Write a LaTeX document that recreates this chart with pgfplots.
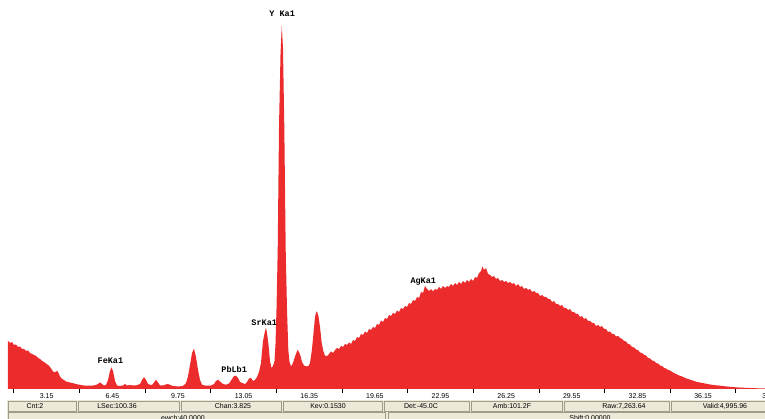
\documentclass[border=0pt]{standalone}
\usepackage{fontspec}
\setmainfont{Liberation Sans}
\newfontfamily\peakfont{Liberation Mono}
\usepackage{pgfplots}
\usepackage{pgfplotstable}
\pgfplotsset{compat=1.18}
\definecolor{specred}{RGB}{236,44,44}
\definecolor{barbg}{RGB}{236,233,216}
\definecolor{barln}{RGB}{160,156,140}

\pgfplotstableread{
kev cnt
1.204 48
1.305 46
1.405 47
1.506 44
1.606 44.5
1.707 42
1.808 42.5
1.908 40
2.009 40
2.109 38
2.210 38.5
2.310 36
2.411 35
2.512 34
2.612 33
2.713 31
2.813 30
2.914 28
3.014 27
3.115 25.5
3.215 24
3.316 22
3.417 19
3.517 16.5
3.618 17.5
3.668 18
3.718 17
3.819 12.5
3.919 10
4.020 9
4.120 7.5
4.221 7
4.322 6.5
4.422 6
4.573 5.3
4.724 4.5
4.875 4
5.026 3.5
5.176 3.3
5.327 3.3
5.478 3.5
5.629 4
5.729 5
5.830 6.6
5.931 5
6.031 3.5
6.132 4
6.232 9
6.333 18
6.408 21.6
6.484 18
6.584 8
6.685 3.5
6.836 3
6.986 3.5
7.087 5
7.188 3.5
7.338 4
7.489 3.5
7.640 3.5
7.841 5
7.942 9
8.042 12
8.143 9
8.243 5
8.344 4.3
8.445 4
8.545 6.5
8.646 9.3
8.746 6.5
8.847 3.5
8.998 3.5
9.148 4.5
9.249 5
9.350 4
9.500 3
9.651 2.7
9.852 2.7
10.003 3
10.154 6
10.255 12.7
10.355 24
10.456 36
10.556 40.3
10.657 32
10.757 19.3
10.858 9
10.959 4.3
11.109 3.5
11.260 3.3
11.411 3.5
11.562 5
11.662 8
11.763 9.3
11.864 7.5
12.014 5
12.165 4.3
12.316 5.5
12.467 10
12.568 13
12.668 13.3
12.769 11
12.869 7
12.970 6
13.121 5
13.221 7
13.322 10.5
13.422 11
13.523 8
13.623 9
13.724 12
13.825 17
13.925 26
14.026 48
14.126 58
14.176 61
14.227 56
14.302 44
14.378 28
14.453 21
14.528 23
14.604 28
14.654 45
14.704 80
14.765 139
14.830 262
14.906 335
14.971 364
15.031 340
15.097 262
15.167 139
15.232 80
15.298 39
15.358 27
15.434 22.6
15.534 26
15.635 32.6
15.760 39
15.836 37
15.911 33
15.987 27
16.087 23.5
16.213 22.6
16.313 23
16.389 26
16.489 40
16.565 56
16.640 72
16.706 77.6
16.766 76
16.816 72.6
16.892 62
16.977 46
17.058 38
17.143 33.3
17.244 33
17.344 35
17.445 37.6
17.545 36
17.646 39
17.746 41
17.847 40
17.948 43
18.048 42
18.149 45
18.249 44
18.350 46.5
18.450 45
18.551 49
18.651 48
18.752 52
18.853 51
18.953 55
19.054 54
19.154 57.5
19.255 56
19.355 60
19.456 59
19.557 62
19.657 61
19.758 65
19.858 64
19.959 68.5
20.059 67
20.160 71
20.261 70
20.361 74
20.462 73
20.562 76
20.663 75
20.763 78.5
20.864 77
20.964 81
21.065 80
21.165 83
21.266 82
21.367 86
21.467 85
21.568 89
21.668 88
21.769 92
21.869 91
21.970 97
22.070 96
22.171 103
22.272 100
22.372 98
22.473 100
22.573 97.6
22.674 100
22.774 99
22.875 102
22.975 100
23.076 103
23.177 101
23.277 103
23.378 102
23.478 105
23.579 103
23.679 106
23.780 104
23.881 107
23.981 105
24.082 108
24.182 106
24.283 109
24.383 107
24.484 110
24.584 108
24.685 112
24.786 111
24.886 116
24.987 118
25.062 122.6
25.137 119
25.238 121
25.339 115
25.439 114
25.540 112
25.640 113
25.741 110
25.841 111
25.942 108
26.043 109
26.143 107
26.244 108
26.344 106
26.445 107
26.545 105
26.646 106
26.746 103
26.847 105
26.948 102
27.048 103
27.149 100
27.249 101
27.350 99
27.450 100
27.551 97
27.652 98
27.752 96
27.853 96
27.953 93
28.054 94
28.154 92
28.255 92
28.355 90
28.456 90
28.557 87
28.657 88
28.758 85
28.858 85
28.959 83
29.059 84
29.160 81
29.260 81
29.361 79
29.462 80
29.562 77
29.663 77
29.763 75
29.864 75
29.964 72
30.065 73
30.166 70
30.266 71
30.367 68
30.467 68
30.568 66
30.668 66
30.769 63
30.869 64
30.970 62
31.071 63
31.171 60
31.272 60
31.372 57
31.473 57.5
31.573 55
31.674 55
31.774 52.5
31.875 53
31.976 51
32.076 50
32.177 48
32.277 47.5
32.378 45
32.478 44.5
32.579 42
32.680 41.5
32.780 39.5
32.881 39
32.981 36.5
33.082 36
33.182 34
33.283 33.5
33.383 31
33.484 30.5
33.585 28.5
33.685 28
33.786 26
33.886 25.5
33.987 23.5
34.087 23
34.188 21
34.288 20.5
34.389 19
34.490 18.5
34.640 16.5
34.791 15
34.942 13.5
35.093 12.5
35.244 11
35.395 10
35.545 9
35.696 8
35.847 7
35.998 6.5
36.249 5.5
36.501 4.5
36.752 3.8
37.004 3.3
37.255 2.7
37.506 2.2
37.858 1.6
38.261 1.2
38.763 0.8
39.266 0.5
}\spec

\begin{document}
\begin{tikzpicture}[x=1pt,y=1pt]
\useasboundingbox (0,0) rectangle (765,419);
\begin{axis}[
  at={(8pt,30pt)}, anchor=south west, scale only axis,
  width=757pt, height=389pt,
  xmin=1.204, xmax=39.266, ymin=0, ymax=389,
  clip=false,
  axis x line*=bottom, axis y line=none,
  x axis line style={draw=none},
  xtick={3.15,6.45,9.75,13.05,16.35,19.65,22.95,26.25,29.55,32.85,36.15},
  xticklabels={3.15,6.45,9.75,13.05,16.35,19.65,22.95,26.25,29.55,32.85,36.15},
  minor xtick={1.5,4.8,8.1,11.4,14.7,18.0,21.3,24.6,27.9,31.2,34.5,37.8},
  major tick length=0pt, minor tick length=4pt,
  tick align=outside,
  every minor tick/.style={black, line width=0.8pt},
  xticklabel style={font=\fontsize{7}{8}\selectfont, anchor=center, inner sep=0pt, yshift=-7.5pt},
]
\addplot[draw=none, fill=specred] table[x=kev, y=cnt] {\spec} \closedcycle;
\node[font=\peakfont\bfseries\fontsize{8.5}{9}\selectfont, inner sep=0pt] at (axis cs:14.99,375) {Y Ka1};
\node[font=\peakfont\bfseries\fontsize{8.5}{9}\selectfont, inner sep=0pt] at (axis cs:6.353,28) {FeKa1};
\node[font=\peakfont\bfseries\fontsize{8.5}{9}\selectfont, inner sep=0pt] at (axis cs:12.577,20) {PbLb1};
\node[font=\peakfont\bfseries\fontsize{8.5}{9}\selectfont, inner sep=0pt] at (axis cs:14.086,66) {SrKa1};
\node[font=\peakfont\bfseries\fontsize{8.5}{9}\selectfont, inner sep=0pt] at (axis cs:22.085,107.6) {AgKa1};
\node[font=\fontsize{7}{8}\selectfont, inner sep=0pt, xshift=2.5pt] at (axis cs:39.45,-7.5) {39.45};
\end{axis}
% status bar
\fill[barbg] (7,-2) rectangle (766,18.5);
\foreach \a/\b in {7/77,77/180,180/282,282/383,383/470,470/563,563/670,670/767}
  \draw[barln, line width=0.7pt] (\a+1,7.5) rectangle (\b-1,17.5);
\draw[barln, line width=0.7pt] (8,-3) rectangle (385,6.5);
\draw[barln, line width=0.7pt] (388,-3) rectangle (767,6.5);
\begin{scope}[every node/.style={font=\fontsize{7}{8}\selectfont, inner sep=0pt}]
\node at (35,12.5) {Cnt:2};
\node at (117,12.5) {LSec:100.36};
\node at (233,12.5) {Chan:3.825};
\node at (328,12.5) {Kev:0.1530};
\node at (421,12.5) {Det:-45.0C};
\node at (512,12.5) {Amb:101.2F};
\node at (624,12.5) {Raw:7,263.64};
\node at (725,12.5) {Valid:4,995.96};
\node at (183,0.5) {ewch:40.0000};
\node at (590,0.5) {Shift:0.00000};
\end{scope}
\end{tikzpicture}
\end{document}
